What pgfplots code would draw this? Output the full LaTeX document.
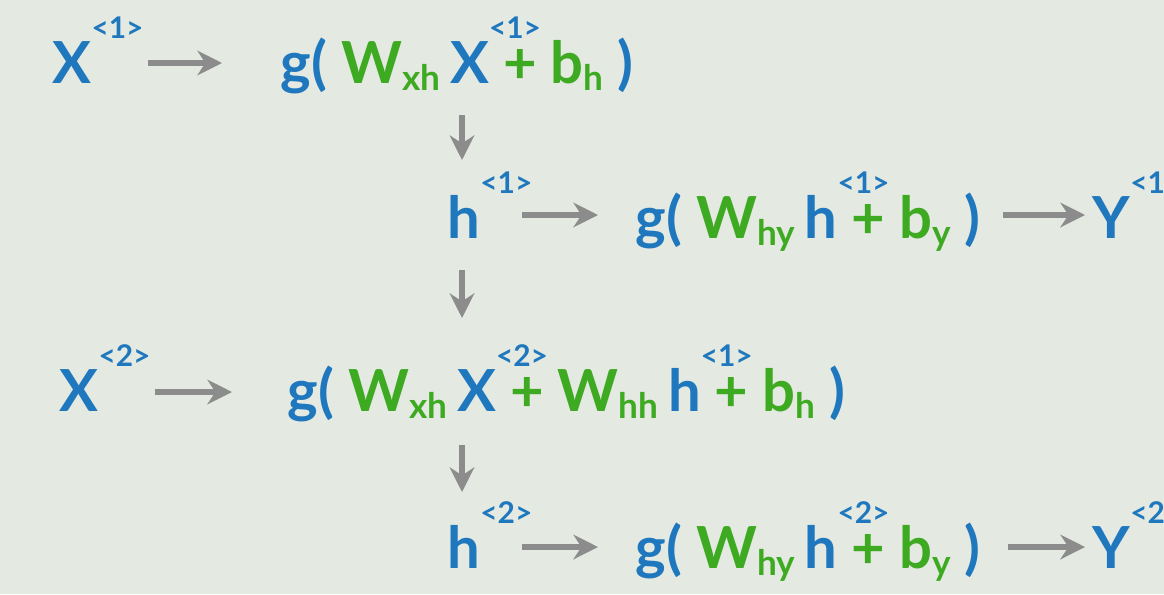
\documentclass[border=0pt]{standalone}
\usepackage{pgfplots}
\pgfplotsset{compat=1.18}
\usepackage{fontspec}
\setmainfont{Lato}
\usetikzlibrary{arrows.meta}
\definecolor{blu}{HTML}{1F78BE}
\definecolor{grn}{HTML}{3DAA22}
\definecolor{bg}{HTML}{E4E9E2}
\definecolor{arr}{HTML}{8C8C8C}
\newcommand\B{\color{blu}}
\newcommand\G{\color{grn}}
\newcommand\sps[1]{\rlap{\raisebox{1.5ex}{\fontsize{8.5}{8.5}\selectfont\B #1}}}
\newcommand\sub[1]{\raisebox{-0.25ex}{\fontsize{10}{10}\selectfont #1}}
\begin{document}
\begin{tikzpicture}
\begin{axis}[scale only axis, width=11.64cm, height=5.94cm, xmin=0, xmax=1164, ymin=0, ymax=594, y dir=reverse,
 axis lines=none, axis background/.style={fill=bg}, clip=true,
 nodes={font=\fontsize{16.5}{16.5}\selectfont\bfseries, inner sep=0pt, anchor=base west},
 ar/.style={arr, solid, no markers, line width=1.6pt, -{Stealth[length=7pt,width=7pt]}}]
\addplot[ar] coordinates {(148,63) (222,63)};
\addplot[ar] coordinates {(522,215) (598,215)};
\addplot[ar] coordinates {(1003,215) (1085,215)};
\addplot[ar] coordinates {(155,392) (232,392)};
\addplot[ar] coordinates {(522,547) (598,547)};
\addplot[ar] coordinates {(1008,547) (1085,547)};
\addplot[ar] coordinates {(462,115) (462,160)};
\addplot[ar] coordinates {(462,270) (462,318)};
\addplot[ar] coordinates {(462,445) (462,492)};
\node at (axis cs:52,83) {\B X\sps{<1>}};
\node at (axis cs:280,83) {\B g( \G W\sub{xh}\,\B X\sps{<1>} \G + b\sub{h} \B )};
\node at (axis cs:447,238) {\B h\sps{<1>}};
\node at (axis cs:635,238) {\B g( \G W\sub{hy}\,\B h\sps{<1>} \G + b\sub{y} \B )};
\node at (axis cs:1092,238) {\B Y\sps{<1>}};
\node at (axis cs:59,411) {\B X\sps{<2>}};
\node at (axis cs:287,411) {\B g( \G W\sub{xh}\,\B X\sps{<2>} \G + W\sub{hh}\,\B h\sps{<1>} \G + b\sub{h} \B )};
\node at (axis cs:447,568) {\B h\sps{<2>}};
\node at (axis cs:635,568) {\B g( \G W\sub{hy}\,\B h\sps{<2>} \G + b\sub{y} \B )};
\node at (axis cs:1092,568) {\B Y\sps{<2>}};
\end{axis}
\end{tikzpicture}
\end{document}
